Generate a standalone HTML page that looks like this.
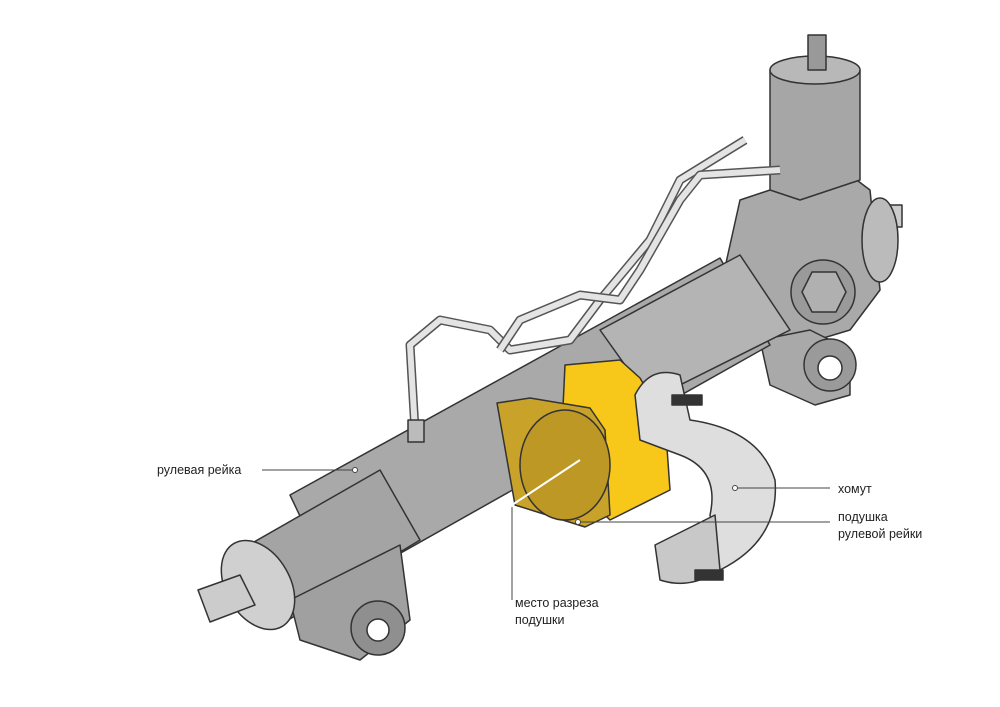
<!DOCTYPE html>
<html><head><meta charset="utf-8"><style>
html,body{margin:0;padding:0;background:#fff;}
svg{display:block}
text{font-family:"Liberation Sans",sans-serif;font-size:12.5px;fill:#222;}
</style></head><body>
<svg width="1000" height="707" viewBox="0 0 1000 707" xmlns="http://www.w3.org/2000/svg">
<g stroke="#333" stroke-width="1.5" stroke-linejoin="round">
<!-- right housing -->
<polygon points="740,200 770,190 850,175 870,190 880,290 850,330 800,345 740,330 720,290" fill="#a9a9a9"/>
<polygon points="770,70 860,70 860,180 800,200 770,190" fill="#a6a6a6"/>
<ellipse cx="815" cy="70" rx="45" ry="14" fill="#b8b8b8"/>
<rect x="808" y="35" width="18" height="35" fill="#999"/>
<rect x="880" y="205" width="22" height="22" fill="#ccc"/>
<ellipse cx="880" cy="240" rx="18" ry="42" fill="#bbb"/>
<circle cx="823" cy="292" r="32" fill="#9a9a9a"/>
<polygon points="812,272 836,272 846,292 836,312 812,312 802,292" fill="#b0b0b0"/>
<polygon points="760,340 810,330 850,350 850,395 815,405 770,385" fill="#a9a9a9"/>
<circle cx="830" cy="365" r="26" fill="#9a9a9a"/>
<circle cx="830" cy="368" r="12" fill="#fff"/>
<!-- main tube -->
<polygon points="290,495 720,258 770,345 335,590" fill="#a9a9a9"/>
<polygon points="600,330 740,255 790,330 650,400" fill="#b4b4b4"/>
<!-- left sleeve -->
<polygon points="240,550 380,470 420,540 280,625" fill="#a4a4a4"/>
<polygon points="290,600 400,545 410,620 360,660 300,640" fill="#a0a0a0"/>
<circle cx="378" cy="628" r="27" fill="#8f8f8f"/>
<circle cx="378" cy="630" r="11" fill="#fff"/>
<ellipse cx="258" cy="585" rx="32" ry="48" transform="rotate(-30 258 585)" fill="#d0d0d0"/>
<polygon points="198,590 240,575 255,605 210,622" fill="#ccc"/>
<!-- pipes -->
<path d="M415,430 L410,345 L440,320 L490,330 L510,350 L570,340 L600,300 L650,240 L680,180 L745,140" fill="none" stroke="#555" stroke-width="9"/>
<path d="M415,430 L410,345 L440,320 L490,330 L510,350 L570,340 L600,300 L650,240 L680,180 L745,140" fill="none" stroke="#e4e4e4" stroke-width="6"/>
<path d="M500,350 L520,320 L580,295 L620,300 L640,270 L680,200 L700,175 L780,170" fill="none" stroke="#555" stroke-width="9"/>
<path d="M500,350 L520,320 L580,295 L620,300 L640,270 L680,200 L700,175 L780,170" fill="none" stroke="#e4e4e4" stroke-width="6"/>
<rect x="408" y="420" width="16" height="22" fill="#bbb"/>
<!-- yellow bushing -->
<polygon points="565,365 620,360 640,378 665,420 670,490 610,520 560,470" fill="#f7c81a"/>
<polygon points="497,403 530,398 590,408 605,430 610,515 585,527 515,505" fill="#c9a22a"/>
<ellipse cx="565" cy="465" rx="45" ry="55" fill="#bd9824"/>
<path d="M512,505 L580,460" stroke="#fff" stroke-width="2" fill="none"/>
<!-- clamp -->
<path d="M635,395 Q650,365 680,375 L690,420 Q760,430 775,480 Q780,540 720,570 L710,515 Q720,470 680,455 L640,440 Z" fill="#dedede"/>
<path d="M655,545 L715,515 L720,570 Q690,590 660,580 Z" fill="#c8c8c8"/>
<rect x="672" y="395" width="30" height="10" fill="#333"/>
<rect x="695" y="570" width="28" height="10" fill="#333"/>
</g>
<!-- callouts -->
<g stroke="#444" stroke-width="1" fill="none">
<line x1="262" y1="470" x2="355" y2="470"/>
<line x1="735" y1="488" x2="830" y2="488"/>
<line x1="578" y1="522" x2="830" y2="522"/>
<line x1="512" y1="507" x2="512" y2="600"/>
</g>
<g fill="#fff" stroke="#444"><circle cx="355" cy="470" r="2.5"/><circle cx="735" cy="488" r="2.5"/><circle cx="578" cy="522" r="2.5"/></g>
<text x="157" y="474">рулевая рейка</text>
<text x="838" y="493">хомут</text>
<text x="838" y="521">подушка</text>
<text x="838" y="538">рулевой рейки</text>
<text x="515" y="607">место разреза</text>
<text x="515" y="624">подушки</text>
</svg>
</body></html>
